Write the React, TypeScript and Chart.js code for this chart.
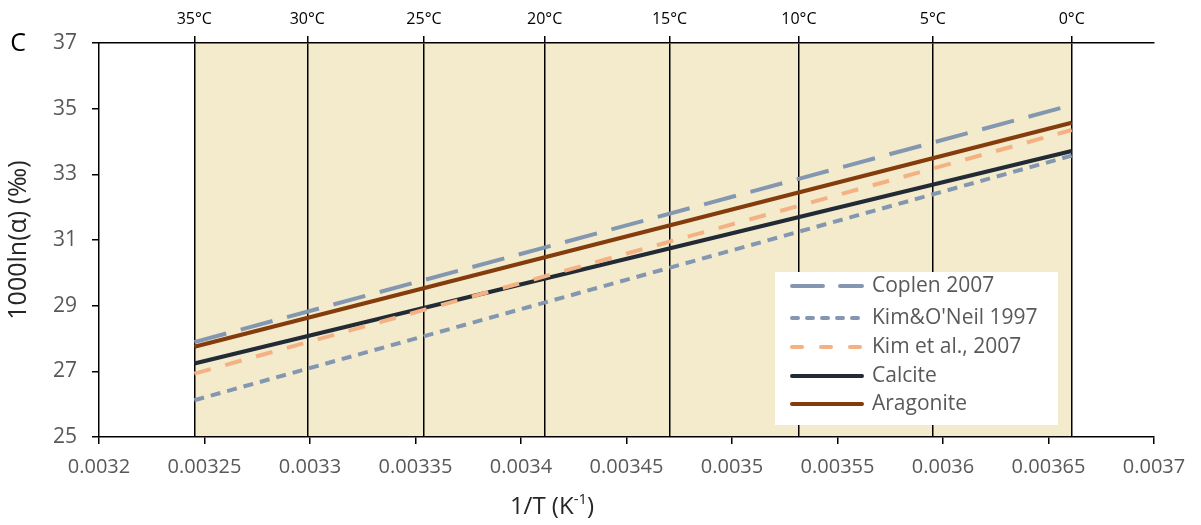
import React, { useEffect, useRef } from "react";
import { Chart, registerables } from "chart.js";

Chart.register(...registerables);

// ---- data ----
const temperaturesC = [35, 30, 25, 20, 15, 10, 5, 0];
const temperatureLabels = ["35°C", "30°C", "25°C", "20°C", "15°C", "10°C", "5°C", "0°C"];
const xTickValues = [0.0032, 0.00325, 0.0033, 0.00335, 0.0034, 0.00345, 0.0035, 0.00355, 0.0036, 0.00365, 0.0037];
const yTickValues = [25, 27, 29, 31, 33, 35, 37];
const lineX = [0.0032452, 0.003661]; // 1/T at 35°C and 0°C
const coplen2007 = [27.89, 35.11];
const kimONeil1997 = [26.12, 33.57];
const kimEtAl2007 = [26.93, 34.35];
const calcite = [27.24, 33.71];
const aragonite = [27.75, 34.57];
const seriesNames = ["Coplen 2007", "Kim&O'Neil 1997", "Kim et al., 2007", "Calcite", "Aragonite"];

const FONT = "'Open Sans', Lato, sans-serif";
const TICK_COLOR = "#595959";

const toPoints = (ys: number[]) => ys.map((y, i) => ({ x: lineX[i], y }));

const shadePlugin = {
  id: "shade",
  beforeDraw(chart: any) {
    const { ctx, chartArea, scales } = chart;
    const xs = temperaturesC.map((t) => scales.x.getPixelForValue(1 / (t + 273.15)));
    const x0 = Math.min(...xs);
    const x1 = Math.max(...xs);
    ctx.save();
    ctx.fillStyle = "#f3ebcc";
    ctx.fillRect(x0, chartArea.top, x1 - x0, chartArea.bottom - chartArea.top);
    ctx.restore();
  },
};

const extrasPlugin = {
  id: "extras",
  afterDraw(chart: any) {
    const { ctx, chartArea } = chart;
    ctx.save();
    // panel letter
    ctx.fillStyle = "#000";
    ctx.font = `25px ${FONT}`;
    ctx.textAlign = "center";
    ctx.textBaseline = "middle";
    ctx.fillText("C", 18, 44);

    // x-axis title with superscript
    const base = `24px ${FONT}`;
    const sup = `15px ${FONT}`;
    const p1 = "1/T (K";
    const p2 = "-1";
    const p3 = ")";
    ctx.font = base;
    const w1 = ctx.measureText(p1).width;
    const w3 = ctx.measureText(p3).width;
    ctx.font = sup;
    const w2 = ctx.measureText(p2).width;
    const total = w1 + w2 + w3;
    let x = 552 - total / 2;
    const y = 507;
    ctx.fillStyle = "#262626";
    ctx.textAlign = "left";
    ctx.textBaseline = "middle";
    ctx.font = base;
    ctx.fillText(p1, x, y);
    x += w1;
    ctx.font = sup;
    ctx.fillText(p2, x, y - 7);
    x += w2;
    ctx.font = base;
    ctx.fillText(p3, x, y);

    // legend
    const lx = chartArea.right - 379;
    const ly = 272;
    const lw = 283;
    const lh = 153;
    ctx.fillStyle = "#ffffff";
    ctx.fillRect(lx, ly, lw, lh);
    const rowY = [286, 318, 347, 376, 404];
    chart.data.datasets.forEach((ds: any, i: number) => {
      const yy = rowY[i];
      ctx.beginPath();
      ctx.strokeStyle = ds.borderColor;
      ctx.lineWidth = 4;
      ctx.lineCap = "round";
      ctx.setLineDash(ds.legendDash || []);
      ctx.moveTo(lx + 17, yy);
      ctx.lineTo(lx + 87, yy);
      ctx.stroke();
      ctx.setLineDash([]);
      ctx.fillStyle = TICK_COLOR;
      ctx.font = `21px ${FONT}`;
      ctx.textAlign = "left";
      ctx.textBaseline = "middle";
      ctx.fillText(seriesNames[i], lx + 97, yy);
    });
    ctx.restore();
  },
};

export default function App() {
  const canvasRef = useRef<HTMLCanvasElement | null>(null);

  useEffect(() => {
    document.body.style.margin = "0";
    const canvas = canvasRef.current;
    if (!canvas) return;
    const mk = (label: string, ys: number[], color: string, dash: number[], legendDash: number[]) => ({
      label,
      data: toPoints(ys),
      borderColor: color,
      backgroundColor: color,
      borderWidth: 4,
      borderDash: dash,
      borderCapStyle: "butt",
      pointRadius: 0,
      fill: false,
      tension: 0,
      legendDash,
    });
    const chart = new Chart(canvas, {
      type: "line",
      data: {
        datasets: [
          mk(seriesNames[0], coplen2007, "#8497b0", [33, 15], [31, 17]),
          mk(seriesNames[1], kimONeil1997, "#8497b0", [10, 7], [6, 9]),
          mk(seriesNames[2], kimEtAl2007, "#f4b183", [17, 15], [10, 19]),
          mk(seriesNames[3], calcite, "#222a35", [], []),
          mk(seriesNames[4], aragonite, "#843c0c", [], []),
        ] as any,
      },
      options: {
        responsive: false,
        animation: false,
        layout: { padding: { left: 0, right: 47, top: 0, bottom: 0 } },
        plugins: { legend: { display: false }, tooltip: { enabled: false } },
        scales: {
          x: {
            type: "linear",
            position: "bottom",
            min: 0.0032,
            max: 0.0037,
            afterBuildTicks: (scale: any) => {
              scale.ticks = xTickValues.map((v) => ({ value: v }));
            },
            afterFit: (scale: any) => {
              scale.height = 88;
            },
            ticks: {
              autoSkip: false,
              maxRotation: 0,
              color: TICK_COLOR,
              font: { family: FONT, size: 20 },
              padding: 11,
              callback: (v: any) => String(Number(Number(v).toFixed(5))),
            },
            grid: { drawOnChartArea: false, color: "#000", lineWidth: 1.5, tickLength: 7 },
            border: { display: true, color: "#000", width: 1.5 },
          },
          x2: {
            type: "linear",
            position: "top",
            min: 0.0032,
            max: 0.0037,
            afterBuildTicks: (scale: any) => {
              scale.ticks = temperaturesC.map((t) => ({ value: 1 / (t + 273.15) }));
            },
            afterFit: (scale: any) => {
              scale.height = 43;
            },
            ticks: {
              autoSkip: false,
              maxRotation: 0,
              color: "#000",
              font: { family: FONT, size: 16 },
              padding: 7,
              callback: (_v: any, i: number) => temperatureLabels[i],
            },
            grid: { drawOnChartArea: true, color: "#000", lineWidth: 1.5, tickLength: 7 },
            border: { display: true, color: "#000", width: 1.5 },
          },
          y: {
            type: "linear",
            min: 25,
            max: 37,
            afterBuildTicks: (scale: any) => {
              scale.ticks = yTickValues.map((v) => ({ value: v }));
            },
            afterFit: (scale: any) => {
              scale.width = 99;
            },
            ticks: {
              color: TICK_COLOR,
              font: { family: FONT, size: 21 },
              padding: 15,
            },
            grid: { drawOnChartArea: false, color: "#000", lineWidth: 1.5, tickLength: 7 },
            border: { display: true, color: "#000", width: 1.5 },
            title: {
              display: true,
              text: "1000ln(α) (‰)",
              color: "#262626",
              font: { family: FONT, size: 25 },
              padding: { top: 4, bottom: 0 },
            },
          },
        },
      },
      plugins: [shadePlugin, extrasPlugin],
    } as any);
    return () => chart.destroy();
  }, []);

  return (
    <div style={{ width: 1201, height: 525 }}>
      <canvas ref={canvasRef} width={1201} height={525} />
    </div>
  );
}
